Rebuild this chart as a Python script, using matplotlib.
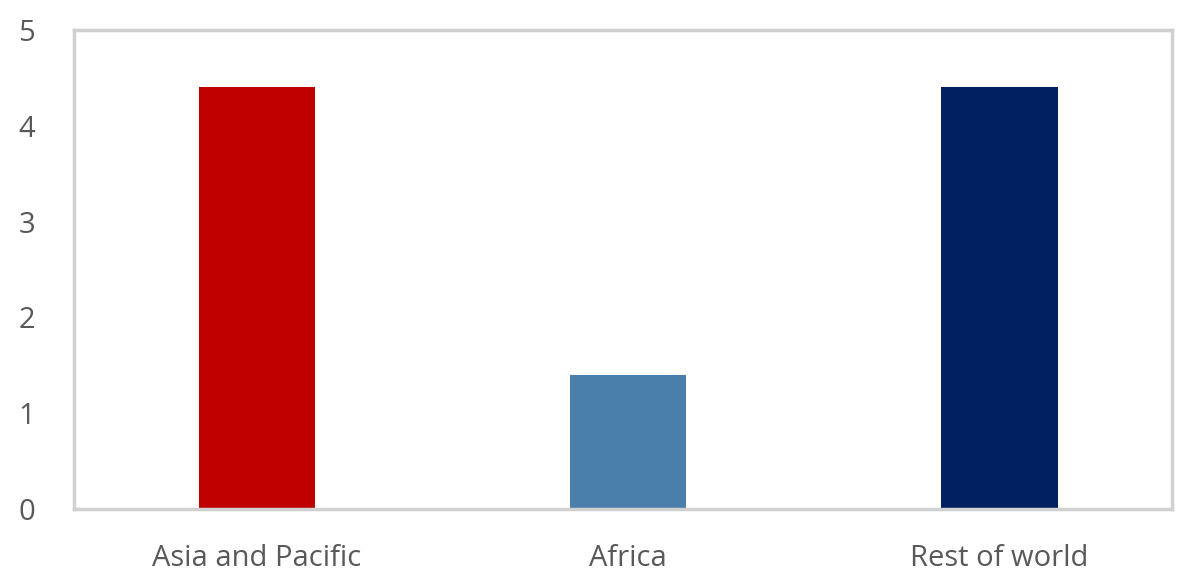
import matplotlib.pyplot as plt

# Regions and their values
regions = ["Asia and Pacific", "Africa", "Rest of world"]
values = [4.4, 1.4, 4.4]
bar_colors = ["#C00000", "#4A7EAB", "#002060"]
y_ticks = [0, 1, 2, 3, 4, 5]

plt.rcParams['font.family'] = ['Open Sans', 'DejaVu Sans']

fig = plt.figure(figsize=(11.81, 5.83), dpi=100)
ax = fig.add_axes([0.0627, 0.127, 0.9297, 0.8215])

x = range(len(regions))
ax.bar(x, values, width=0.315, color=bar_colors)

ax.set_xlim(-0.493, len(regions) - 0.534)
ax.set_ylim(0, 5)
ax.set_yticks(y_ticks)
ax.set_xticks(list(x))
ax.set_xticklabels(regions)

for spine in ax.spines.values():
    spine.set_color("#d0d0d0")
    spine.set_linewidth(2.5)

ax.tick_params(axis="both", length=0, labelsize=21, labelcolor="#595959")
ax.tick_params(axis="y", pad=28)
ax.tick_params(axis="x", pad=25)

fig.savefig("out.png", dpi=100)
